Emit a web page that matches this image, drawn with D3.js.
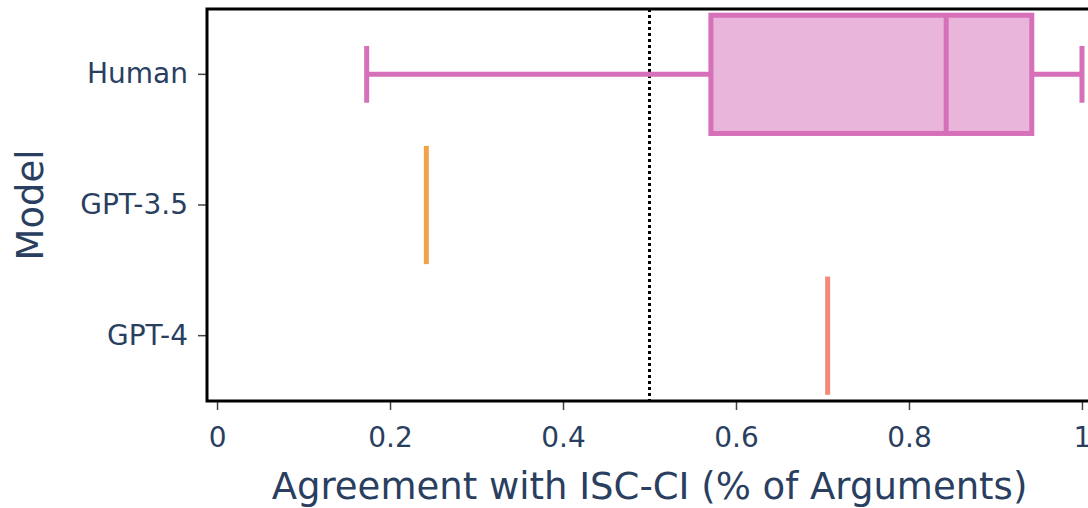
<!DOCTYPE html>
<html lang="en">

<head>
    <meta charset="UTF-8">
    <title>Agreement with ISC-CI</title>
    <script src="https://d3js.org/d3.v7.min.js"></script>
    <style>
        body { margin: 0; background: #fff; }
        text { font-family: "DejaVu Sans", Verdana, sans-serif; fill: #2a3f5f; }
    </style>
</head>

<body>
    <div id="chart"></div>
    <script>
        // data
        var models = ["Human", "GPT-3.5", "GPT-4"];
        var lowerFence = [0.173, 0.242, 0.706];
        var q1 = [0.571, 0.242, 0.706];
        var median = [0.843, 0.242, 0.706];
        var q3 = [0.942, 0.242, 0.706];
        var upperFence = [1.0, 0.242, 0.706];
        var xTicks = [0, 0.2, 0.4, 0.6, 0.8, 1];
        var threshold = 0.5;

        var lineColors = { "Human": "#d670b8", "GPT-3.5": "#f2a348", "GPT-4": "#f38a79" };
        var fillColors = { "Human": "#eab5da", "GPT-3.5": "#f8d2a4", "GPT-4": "#f9c5bc" };

        var width = 1088, height = 508;
        var plot = { left: 207, right: 1092, top: 9, bottom: 401 };
        var pad = 0.0116;

        var svg = d3.select("#chart").append("svg")
            .attr("width", width)
            .attr("height", height);

        var x = d3.scaleLinear()
            .domain([-pad, 1 + pad])
            .range([plot.left, plot.right]);

        var y = d3.scaleBand()
            .domain(models)
            .range([plot.top, plot.bottom]);

        var boxH = y.bandwidth() * 0.905;
        var capH = boxH * 0.48;
        var lw = 5;

        var rows = models.map(function (m, i) {
            return { model: m, lo: lowerFence[i], q1: q1[i], med: median[i], q3: q3[i], hi: upperFence[i] };
        });

        var g = svg.append("g");

        // dotted reference line
        g.append("line")
            .attr("x1", x(threshold)).attr("x2", x(threshold))
            .attr("y1", plot.top).attr("y2", plot.bottom)
            .attr("stroke", "#000")
            .attr("stroke-width", 3)
            .attr("stroke-dasharray", "3,3");

        var box = g.selectAll(".box").data(rows).enter().append("g")
            .attr("class", "box")
            .attr("transform", function (d) { return "translate(0," + (y(d.model) + y.bandwidth() / 2) + ")"; });

        // whiskers
        box.append("line")
            .attr("x1", function (d) { return x(d.lo); })
            .attr("x2", function (d) { return x(d.q1); })
            .attr("stroke", function (d) { return lineColors[d.model]; })
            .attr("stroke-width", lw);
        box.append("line")
            .attr("x1", function (d) { return x(d.q3); })
            .attr("x2", function (d) { return x(d.hi); })
            .attr("stroke", function (d) { return lineColors[d.model]; })
            .attr("stroke-width", lw);
        box.selectAll(".cap")
            .data(function (d) { return d.hi > d.lo ? [{ v: d.lo, m: d.model }, { v: d.hi, m: d.model }] : []; })
            .enter().append("line")
            .attr("x1", function (c) { return x(c.v); })
            .attr("x2", function (c) { return x(c.v); })
            .attr("y1", -capH / 2).attr("y2", capH / 2)
            .attr("stroke", function (c) { return lineColors[c.m]; })
            .attr("stroke-width", lw);

        // box
        box.append("rect")
            .attr("x", function (d) { return x(d.q1); })
            .attr("width", function (d) { return x(d.q3) - x(d.q1); })
            .attr("y", -boxH / 2)
            .attr("height", boxH)
            .attr("fill", function (d) { return fillColors[d.model]; })
            .attr("stroke", function (d) { return lineColors[d.model]; })
            .attr("stroke-width", lw);

        // median
        box.append("line")
            .attr("x1", function (d) { return x(d.med); })
            .attr("x2", function (d) { return x(d.med); })
            .attr("y1", -boxH / 2).attr("y2", boxH / 2)
            .attr("stroke", function (d) { return lineColors[d.model]; })
            .attr("stroke-width", lw);

        // axes
        var xAxis = svg.append("g")
            .attr("transform", "translate(0," + plot.bottom + ")")
            .call(d3.axisBottom(x)
                .tickValues(xTicks)
                .tickSize(9)
                .tickPadding(17)
                .tickFormat(function (d) { return (d === 0 || d === 1) ? String(d) : d3.format(".1f")(d); }));
        xAxis.select(".domain").remove();
        xAxis.selectAll("line").attr("stroke", "#444").attr("stroke-width", 1.5);
        xAxis.selectAll("text").style("font-size", "28px").attr("fill", "#2a3f5f");

        var yAxis = svg.append("g")
            .attr("transform", "translate(" + plot.left + ",0)")
            .call(d3.axisLeft(y).tickSize(9).tickPadding(10));
        yAxis.select(".domain").remove();
        yAxis.selectAll("line").attr("stroke", "#444").attr("stroke-width", 1.5);
        yAxis.selectAll("text").style("font-size", "28px").attr("fill", "#2a3f5f");

        // frame
        svg.append("rect")
            .attr("x", plot.left).attr("y", plot.top)
            .attr("width", plot.right - plot.left)
            .attr("height", plot.bottom - plot.top)
            .attr("fill", "none")
            .attr("stroke", "#000")
            .attr("stroke-width", 3);

        // titles
        svg.append("text")
            .attr("x", (plot.left + plot.right) / 2)
            .attr("y", 499)
            .attr("text-anchor", "middle")
            .style("font-size", "37px")
            .text("Agreement with ISC-CI (% of Arguments)");

        svg.append("text")
            .attr("transform", "translate(43," + (plot.top + plot.bottom) / 2 + ") rotate(-90)")
            .attr("text-anchor", "middle")
            .style("font-size", "37px")
            .text("Model");
    </script>
</body>

</html>
